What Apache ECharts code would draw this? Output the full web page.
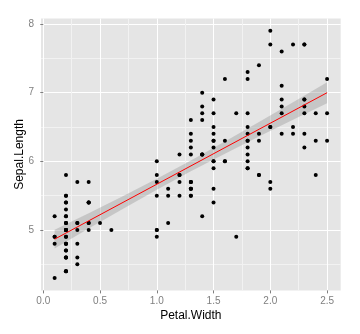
<!DOCTYPE html>
<html><head><meta charset="utf-8">
<script src="https://cdn.jsdelivr.net/npm/echarts@6/dist/echarts.min.js"></script>
<style>html,body{margin:0;padding:0;background:#fff}#c{width:360px;height:334px}</style>
</head><body><div id="c"></div>
<script>
const petalWidth = [
0.2,0.2,0.2,0.2,0.2,0.4,0.3,0.2,0.2,0.1,0.2,0.2,0.1,0.1,0.2,0.4,0.4,0.3,0.3,0.3,
0.2,0.4,0.2,0.5,0.2,0.2,0.4,0.2,0.2,0.2,0.2,0.4,0.1,0.2,0.2,0.2,0.2,0.1,0.2,0.2,
0.3,0.3,0.2,0.6,0.4,0.3,0.2,0.2,0.2,0.2,
1.4,1.5,1.5,1.3,1.5,1.3,1.6,1.0,1.3,1.4,1.0,1.5,1.0,1.4,1.3,1.4,1.5,1.0,1.5,1.1,
1.8,1.3,1.5,1.2,1.3,1.4,1.4,1.7,1.5,1.0,1.1,1.0,1.2,1.6,1.5,1.6,1.5,1.3,1.3,1.3,
1.2,1.4,1.2,1.0,1.3,1.2,1.3,1.3,1.1,1.3,
2.5,1.9,2.1,1.8,2.2,2.1,1.7,1.8,1.8,2.5,2.0,1.9,2.1,2.0,2.4,2.3,1.8,2.2,2.3,1.5,
2.3,2.0,2.0,1.8,2.1,1.8,1.8,1.8,2.1,1.6,1.9,2.0,2.2,1.5,1.4,2.3,2.4,1.8,1.8,2.1,
2.4,2.3,1.9,2.3,2.5,2.3,1.9,2.0,2.3,1.8];
const sepalLength = [
5.1,4.9,4.7,4.6,5.0,5.4,4.6,5.0,4.4,4.9,5.4,4.8,4.8,4.3,5.8,5.7,5.4,5.1,5.7,5.1,
5.4,5.1,4.6,5.1,4.8,5.0,5.0,5.2,5.2,4.7,4.8,5.4,5.2,5.5,4.9,5.0,5.5,4.9,4.4,5.1,
5.0,4.5,4.4,5.0,5.1,4.8,5.1,4.6,5.3,5.0,
7.0,6.4,6.9,5.5,6.5,5.7,6.3,4.9,6.6,5.2,5.0,5.9,6.0,6.1,5.6,6.7,5.6,5.8,6.2,5.6,
5.9,6.1,6.3,6.1,6.4,6.6,6.8,6.7,6.0,5.7,5.5,5.5,5.8,6.0,5.4,6.0,6.7,6.3,5.6,5.5,
5.5,6.1,5.8,5.0,5.6,5.7,5.7,6.2,5.1,5.7,
6.3,5.8,7.1,6.3,6.5,7.6,4.9,7.3,6.7,7.2,6.5,6.4,6.8,5.7,5.8,6.4,6.5,7.7,7.7,6.0,
6.9,5.6,7.7,6.3,6.7,7.2,6.2,6.1,6.4,7.2,7.4,7.9,6.4,6.3,6.1,7.7,6.3,6.4,6.0,6.9,
6.7,6.9,5.8,6.8,6.7,6.7,6.3,6.5,6.2,5.9];
const fitX = [0.1, 2.5];
const fitY = [4.8665, 6.9991];
const bandX = [0.1, 0.4, 0.7, 1.0, 1.3, 1.6, 1.9, 2.2, 2.5];
const bandLower = [4.731, 5.021, 5.307, 5.586, 5.855, 6.112, 6.361, 6.605, 6.846];
const bandUpper = [5.002, 5.245, 5.492, 5.746, 6.011, 6.287, 6.571, 6.860, 7.152];
const xTicks = [0, 0.5, 1.0, 1.5, 2.0, 2.5];
const xMinorTicks = [0.25, 0.75, 1.25, 1.75, 2.25];
const yTicks = [5, 6, 7, 8];
const yMinorTicks = [4.5, 5.5, 6.5, 7.5];

const X_MIN = -0.02, X_MAX = 2.62, Y_MIN = 4.12, Y_MAX = 8.08;
const FONT = 'Liberation Sans, Arial, sans-serif';
const TICK_COL = '#7F7F7F';

const chart = echarts.init(document.getElementById('c'), null, {renderer: 'canvas'});
const minorAxis = (vals, min, max) => ({
  type: 'value', min: min, max: max, gridIndex: 0,
  axisLine: {show: false},
  axisTick: {show: false, customValues: vals},
  axisLabel: {show: false, customValues: vals},
  splitLine: {show: true, lineStyle: {color: '#F2F2F2', width: 1}}
});
chart.setOption({
  animation: false,
  backgroundColor: '#ffffff',
  grid: {left: 41, right: 19.3, top: 18.5, bottom: 43.6, show: true,
         backgroundColor: '#E5E5E5', borderWidth: 0},
  xAxis: [
    minorAxis(xMinorTicks, X_MIN, X_MAX),
    {
      type: 'value', min: X_MIN, max: X_MAX, gridIndex: 0, position: 'bottom',
      name: 'Petal.Width', nameLocation: 'middle', nameGap: 19, nameMoveOverlap: false,
      nameTextStyle: {color: '#000', fontSize: 12, fontFamily: FONT},
      axisLine: {show: false},
      axisTick: {show: true, length: 3, customValues: xTicks, lineStyle: {color: TICK_COL}},
      axisLabel: {customValues: xTicks, color: TICK_COL, fontSize: 10, fontFamily: FONT, margin: 6,
                  formatter: v => Number(v).toFixed(1)},
      splitLine: {show: true, lineStyle: {color: '#ffffff', width: 1}}
    }
  ],
  yAxis: [
    minorAxis(yMinorTicks, Y_MIN, Y_MAX),
    {
      type: 'value', min: Y_MIN, max: Y_MAX, gridIndex: 0, position: 'left',
      name: 'Sepal.Length', nameLocation: 'middle', nameGap: 15, nameMoveOverlap: false,
      nameTextStyle: {color: '#000', fontSize: 12, fontFamily: FONT},
      axisLine: {show: false},
      axisTick: {show: true, length: 3, customValues: yTicks, lineStyle: {color: TICK_COL}},
      axisLabel: {customValues: yTicks, color: TICK_COL, fontSize: 10, fontFamily: FONT, margin: 7,
                  formatter: v => String(Math.round(v))},
      splitLine: {show: true, lineStyle: {color: '#ffffff', width: 1}}
    }
  ],
  series: [
    {
      type: 'scatter', xAxisIndex: 1, yAxisIndex: 1,
      data: petalWidth.map((x, i) => [x, sepalLength[i]]),
      symbolSize: 4, itemStyle: {color: '#000000', opacity: 1}, silent: true
    },
    {
      type: 'custom', xAxisIndex: 1, yAxisIndex: 1, silent: true,
      data: [[bandX[0], bandLower[0]]],
      renderItem: function (params, api) {
        const up = bandX.map((x, i) => api.coord([x, bandUpper[i]]));
        const lo = bandX.map((x, i) => api.coord([x, bandLower[i]])).reverse();
        return {type: 'polygon', shape: {points: up.concat(lo)},
                style: {fill: 'rgba(153,153,153,0.4)', stroke: null}};
      }
    },
    {
      type: 'line', xAxisIndex: 1, yAxisIndex: 1, silent: true,
      data: fitX.map((x, i) => [x, fitY[i]]),
      symbol: 'none', lineStyle: {color: '#FF0000', width: 1}
    }
  ]
});
</script></body></html>
